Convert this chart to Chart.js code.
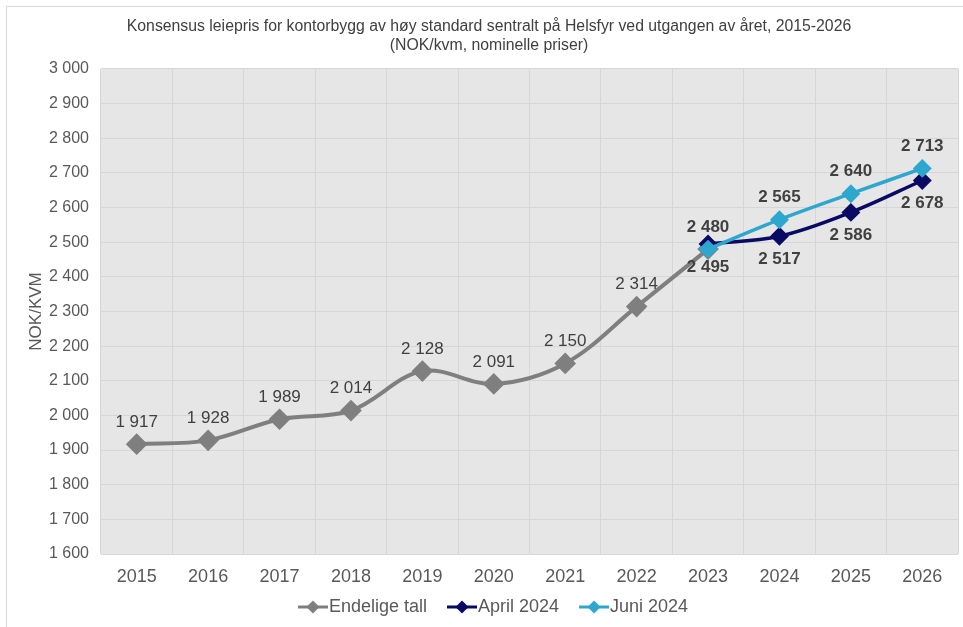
<!DOCTYPE html>
<html lang="no">
<head>
    <meta charset="UTF-8">
    <title>Konsensus leiepris Helsfyr</title>
    <style>
        body {
            margin: 0;
            padding: 0;
            background: #ffffff;
            overflow: hidden;
        }
        .wrap {
            position: relative;
            width: 963px;
            height: 627px;
        }
    </style>
</head>
<body>
    <div class="wrap">
        <canvas id="chart" width="963" height="627"></canvas>
    </div>

    <script src="https://cdn.jsdelivr.net/npm/chart.js"></script>
    <script>
        // Data lest av figuren
        const years = ['2015', '2016', '2017', '2018', '2019', '2020', '2021', '2022', '2023', '2024', '2025', '2026'];
        const endeligeTall = [1917, 1928, 1989, 2014, 2128, 2091, 2150, 2314, 2480, null, null, null];
        const april2024 = [null, null, null, null, null, null, null, null, 2495, 2517, 2586, 2678];
        const juni2024 = [null, null, null, null, null, null, null, null, 2480, 2565, 2640, 2713];
        const yTicks = [1600, 1700, 1800, 1900, 2000, 2100, 2200, 2300, 2400, 2500, 2600, 2700, 2800, 2900, 3000];

        const GRAY = '#7f7f7f';
        const NAVY = '#0a0a64';
        const LIGHT = '#2ea7cf';
        const TEXT = '#595959';
        const FONT = 'Liberation Sans, Arial, sans-serif';

        // mellomrom som tusenskille
        function fmt(v) {
            return String(v).replace(/\B(?=(\d{3})+(?!\d))/g, ' ');
        }

        // strek + rombe til legenden (tom plass til venstre i bildet)
        function legendIcon(color) {
            const c = document.createElement('canvas');
            c.width = 46;
            c.height = 14;
            const g = c.getContext('2d');
            g.strokeStyle = color;
            g.lineWidth = 3;
            g.beginPath();
            g.moveTo(16, 7);
            g.lineTo(46, 7);
            g.stroke();
            g.fillStyle = color;
            g.beginPath();
            g.moveTo(31, 0.5);
            g.lineTo(37.5, 7);
            g.lineTo(31, 13.5);
            g.lineTo(24.5, 7);
            g.closePath();
            g.fill();
            return c;
        }

        // etiketter over/under punktene
        const labelPlugin = {
            id: 'pointLabels',
            afterDatasetsDraw(chart) {
                const ctx = chart.ctx;
                chart.data.datasets.forEach((ds, i) => {
                    const meta = chart.getDatasetMeta(i);
                    ds.data.forEach((v, j) => {
                        if (v === null || (ds.skipLabels && ds.skipLabels.includes(j))) return;
                        const pt = meta.data[j];
                        ctx.save();
                        ctx.font = (ds.labelBold ? 'bold ' : '') + '17px ' + FONT;
                        ctx.fillStyle = '#404040';
                        ctx.textAlign = 'center';
                        ctx.textBaseline = 'middle';
                        ctx.fillText(fmt(v), pt.x, pt.y + ds.labelOffset);
                        ctx.restore();
                    });
                });
            }
        };

        // ramme rundt hele figuren
        const framePlugin = {
            id: 'frame',
            beforeDraw(chart) {
                const ctx = chart.ctx;
                ctx.save();
                ctx.strokeStyle = '#d9d9d9';
                ctx.lineWidth = 1;
                ctx.strokeRect(6.5, 6.5, 970, 640);
                ctx.restore();
            }
        };

        // grå bakgrunn i plottområdet
        const areaPlugin = {
            id: 'areaBg',
            beforeDraw(chart) {
                const a = chart.chartArea;
                const ctx = chart.ctx;
                ctx.save();
                ctx.fillStyle = '#e6e6e6';
                ctx.fillRect(a.left, a.top, a.right - a.left, a.bottom - a.top);
                ctx.restore();
            }
        };

        const icons = [legendIcon(GRAY), legendIcon(NAVY), legendIcon(LIGHT)];

        new Chart(document.getElementById('chart').getContext('2d'), {
            type: 'line',
            data: {
                labels: years,
                datasets: [
                    {
                        label: 'Endelige tall',
                        data: endeligeTall,
                        borderColor: GRAY,
                        backgroundColor: GRAY,
                        borderWidth: 4,
                        pointStyle: 'rectRot',
                        pointRadius: 8,
                        tension: 0.35,
                        order: 3,
                        labelOffset: -22,
                        labelBold: false,
                        skipLabels: [8]
                    },
                    {
                        label: 'April 2024',
                        data: april2024,
                        borderColor: NAVY,
                        backgroundColor: NAVY,
                        borderWidth: 3.5,
                        pointStyle: 'rectRot',
                        pointRadius: 7,
                        tension: 0.35,
                        order: 2,
                        labelOffset: 23,
                        labelBold: true
                    },
                    {
                        label: 'Juni 2024',
                        data: juni2024,
                        borderColor: LIGHT,
                        backgroundColor: LIGHT,
                        borderWidth: 3.5,
                        pointStyle: 'rectRot',
                        pointRadius: 7,
                        tension: 0.35,
                        order: 1,
                        labelOffset: -22,
                        labelBold: true
                    }
                ]
            },
            options: {
                responsive: false,
                animation: false,
                layout: {
                    autoPadding: false,
                    padding: { left: 20, right: 5, top: 0, bottom: 1 }
                },
                plugins: {
                    title: {
                        display: true,
                        text: [
                            'Konsensus leiepris for kontorbygg av høy standard sentralt på Helsfyr ved utgangen av året, 2015-2026',
                            '(NOK/kvm, nominelle priser)'
                        ],
                        color: '#404040',
                        font: { family: FONT, size: 15.8, weight: 'normal', lineHeight: 1.15 },
                        padding: { top: 18, bottom: 14.6 }
                    },
                    legend: {
                        position: 'bottom',
                        labels: {
                            usePointStyle: true,
                            pointStyleWidth: 30,
                            padding: 12,
                            color: TEXT,
                            font: { family: FONT, size: 18 },
                            generateLabels(chart) {
                                return chart.data.datasets.map((ds, i) => ({
                                    text: ds.label,
                                    pointStyle: icons[i],
                                    fillStyle: ds.borderColor,
                                    strokeStyle: ds.borderColor,
                                    lineWidth: 0,
                                    fontColor: TEXT,
                                    datasetIndex: i,
                                    hidden: false
                                }));
                            }
                        }
                    },
                    tooltip: { enabled: false }
                },
                scales: {
                    x: {
                        offset: true,
                        afterFit(scale) {
                            scale.height = 32;
                            scale.paddingLeft = 0;
                            scale.paddingRight = 0;
                        },
                        grid: {
                            offset: true,
                            color: '#d6d6d6',
                            lineWidth: 1,
                            drawTicks: false
                        },
                        border: { display: false },
                        ticks: {
                            color: TEXT,
                            padding: 12,
                            font: { family: FONT, size: 18 }
                        }
                    },
                    y: {
                        min: 1600,
                        max: 3000,
                        afterBuildTicks(scale) {
                            scale.ticks = yTicks.map(v => ({ value: v }));
                        },
                        afterFit(scale) {
                            scale.width = 81;
                        },
                        grid: {
                            color: '#d6d6d6',
                            lineWidth: 1,
                            drawTicks: false
                        },
                        border: { display: false },
                        title: {
                            display: true,
                            text: 'NOK/KVM',
                            color: TEXT,
                            font: { family: FONT, size: 17 },
                            padding: { top: 6, bottom: 0 }
                        },
                        ticks: {
                            color: TEXT,
                            padding: 12,
                            font: { family: FONT, size: 16 },
                            callback: v => fmt(v)
                        }
                    }
                }
            },
            plugins: [framePlugin, areaPlugin, labelPlugin]
        });
    </script>
</body>
</html>
